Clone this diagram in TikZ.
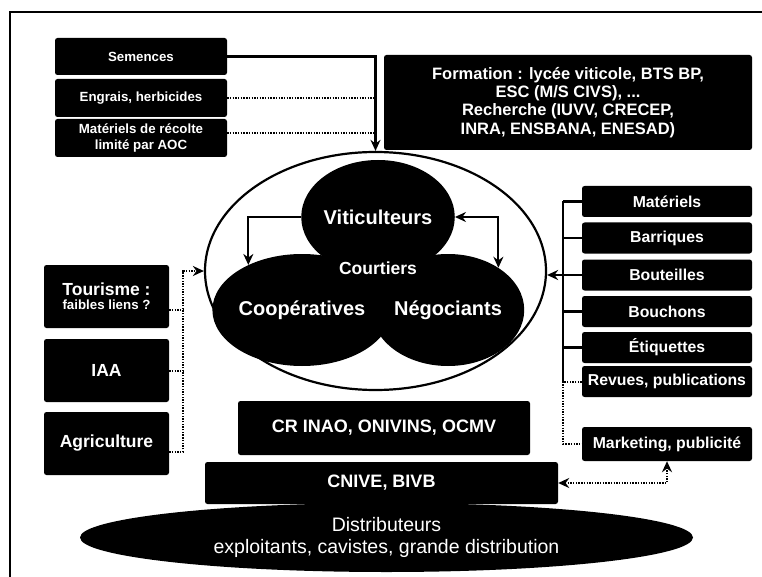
\documentclass[tikz,border=0pt]{standalone}
\usepackage{fontspec}
\setmainfont{Liberation Sans}
\usepackage{tikz}
\usetikzlibrary{positioning, arrows.meta, shapes.geometric}

\begin{document}
\begin{tikzpicture}[
    x=1pt, y=-1pt,
    box/.style={rectangle, fill=black, text=white, rounded corners=2.5pt, inner sep=0pt, align=center},
    blob/.style={ellipse, fill=black, text=white, inner sep=0pt, font=\bfseries\fontsize{20}{22}\selectfont},
    smalltxt/.style={font=\bfseries\fontsize{13.3}{16}\selectfont},
    midtxt/.style={font=\bfseries\fontsize{15.8}{18}\selectfont},
    bigtxt/.style={font=\bfseries\fontsize{17.5}{18}\selectfont},
    link/.style={line width=2.1pt},
    dotlink/.style={line width=2pt, dash pattern=on 1.4pt off 1.3pt},
    arr/.style={-{Stealth[length=11pt, width=10pt]}},
    biarr/.style={{Stealth[length=11pt, width=10pt]}-{Stealth[length=11pt, width=10pt]}}
]
\useasboundingbox (0,0) rectangle (762,577);

% cadre
\draw[line width=2.2pt] (10,577) -- (10,12) -- (762,12);

% fournisseurs en haut a gauche
\node[box, smalltxt, minimum width=172, minimum height=37] (sem) at (141,56.5) {Semences};
\node[box, smalltxt, minimum width=172, minimum height=38] (engr) at (141,98) {Engrais, herbicides};
\node[box, smalltxt, minimum width=172, minimum height=38] (mat) at (141,138) {Matériels de récolte\\limité par AOC};

% formation et recherche
\node[box, font=\bfseries\fontsize{16.5}{18.3}\selectfont, minimum width=368, minimum height=95] (form) at (568,102.5)
    {Formation : lycée viticole, BTS BP,\\ESC (M/S CIVS), ...\\Recherche (IUVV, CRECEP,\\INRA, ENSBANA, ENESAD)};

% filiere au centre
\node[ellipse, draw, line width=2.2pt, minimum width=341, minimum height=238, inner sep=0pt] (cercle) at (375.5,271) {};
\node[blob, minimum width=150, minimum height=114] (vit) at (378,217) {Viticulteurs};
\node[blob, minimum width=150, minimum height=112] (coop) at (302,310) {Coopératives};
\node[blob, minimum width=150, minimum height=112] (neg) at (448,310) {Négociants};
\node[blob, bigtxt, minimum width=110, minimum height=50] (court) at (378,268) {Courtiers};

\draw[link, arr] (vit.west) -| (coop.140);
\draw[link, biarr] (vit.east) -| (neg.40);

% liens des fournisseurs
\draw[link, arr] (sem.east) -| (cercle.north);
\draw[dotlink] (engr.east) -- (engr.east -| cercle.north);
\draw[dotlink] ([yshift=5pt]mat.east) -- ([yshift=5pt]mat.east -| cercle.north);

% autres secteurs
\node[box, minimum width=125, minimum height=63] (tour) at (106.5,296.5)
    {\bfseries\fontsize{17.5}{18}\selectfont Tourisme :\\[2pt]\bfseries\fontsize{13.3}{16}\selectfont faibles liens ?};
\node[box, bigtxt, minimum width=125, minimum height=63] (iaa) at (106.5,370.5) {IAA};
\node[box, bigtxt, minimum width=125, minimum height=63] (agri) at (106.5,443.5) {Agriculture};

\draw[dotlink, arr] ([yshift=-8pt]agri.east) -- ++(14,0) |- (cercle.west);
\draw[dotlink] ([yshift=-13pt]tour.east) -- ++(14,0);
\draw[dotlink] (iaa.east) -- ++(14,0);

% fournisseurs de materiel
\foreach \i/\y/\txt in {1/201.5/Matériels, 2/238/Barriques, 3/275/Bouteilles,
                        4/311.5/Bouchons, 5/347.5/Étiquettes, 6/381.5/{Revues, publications}} {
    \node[box, midtxt, minimum width=170, minimum height=31] (R\i) at (667,\y) {\txt};
}
\node[box, midtxt, minimum width=170, minimum height=34] (mkt) at (667,444) {Marketing, publicité};

\coordinate (bus) at (563,0);
\draw[link] (R1.west -| bus) -- (R6.west -| bus);
\foreach \i in {1,...,5} {
    \draw[link] (R\i.west -| bus) -- (R\i.west);
}
\draw[link, arr] (R3.west -| bus) -- (R3.west -| cercle.east);
\draw[dotlink] (R6.west) -- (R6.west -| bus) |- (mkt.west);

% organismes
\node[box, font=\bfseries\fontsize{18}{20}\selectfont, minimum width=292, minimum height=54] (inao) at (384,428) {CR INAO, ONIVINS, OCMV};
\node[box, font=\bfseries\fontsize{18}{20}\selectfont, minimum width=353, minimum height=42] (cnive) at (381.5,483) {CNIVE, BIVB};
\draw[dotlink, biarr] (cnive.east) -| (mkt.south);

% distribution
\node[ellipse, fill=black, text=white, inner sep=0pt, align=center, minimum width=613, minimum height=69,
      font=\fontsize{19.5}{22}\selectfont] (distr) at (386.5,537.5)
    {Distributeurs\\exploitants, cavistes, grande distribution};

\end{tikzpicture}
\end{document}
